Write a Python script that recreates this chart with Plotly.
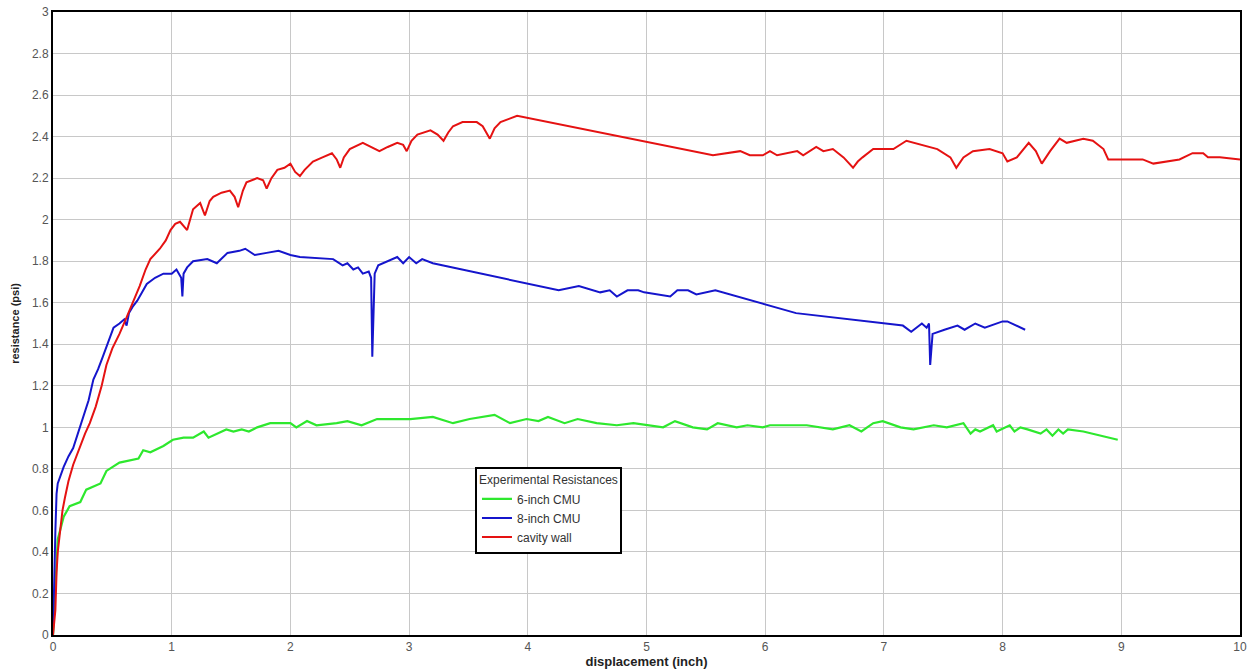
import plotly.graph_objects as go

# ---- data ----
red_x = [0, 0.01, 0.02, 0.03, 0.04, 0.06, 0.08, 0.1, 0.13, 0.17, 0.22, 0.27, 0.31, 0.36, 0.41, 0.45,
         0.5, 0.56, 0.62, 0.67, 0.73, 0.78, 0.82, 0.9, 0.95, 0.99, 1.03, 1.07, 1.1, 1.13, 1.18, 1.24,
         1.28, 1.32, 1.35, 1.42, 1.49, 1.53, 1.56, 1.6, 1.63, 1.72, 1.77, 1.8, 1.84, 1.89, 1.95, 2.0,
         2.04, 2.08, 2.12, 2.19, 2.27, 2.35, 2.39, 2.42, 2.45, 2.5, 2.61, 2.68, 2.75, 2.82, 2.9, 2.95,
         2.98, 3.02, 3.07, 3.18, 3.24, 3.29, 3.33, 3.37, 3.45, 3.57, 3.62, 3.68, 3.72, 3.77, 3.91,
         5.56, 5.79, 5.87, 5.98, 6.04, 6.1, 6.27, 6.32, 6.43, 6.49, 6.57, 6.66, 6.74, 6.78, 6.82, 6.91,
         7.08, 7.19, 7.45, 7.56, 7.61, 7.67, 7.75, 7.89, 8.0, 8.04, 8.12, 8.22, 8.28, 8.33, 8.4, 8.48,
         8.54, 8.68, 8.76, 8.85, 8.89, 9.18, 9.27, 9.49, 9.6, 9.69, 9.73, 9.83, 10.0]
red_y = [0, 0.05, 0.12, 0.3, 0.4, 0.5, 0.6, 0.66, 0.74, 0.82, 0.9, 0.97, 1.02, 1.1, 1.2, 1.3,
         1.38, 1.45, 1.53, 1.6, 1.68, 1.76, 1.81, 1.86, 1.9, 1.95, 1.98, 1.99, 1.97, 1.95, 2.05, 2.08,
         2.02, 2.09, 2.11, 2.13, 2.14, 2.11, 2.06, 2.14, 2.18, 2.2, 2.19, 2.15, 2.2, 2.24, 2.25, 2.27,
         2.23, 2.21, 2.24, 2.28, 2.3, 2.32, 2.29, 2.25, 2.3, 2.34, 2.37, 2.35, 2.33, 2.35, 2.37, 2.36,
         2.33, 2.38, 2.41, 2.43, 2.41, 2.38, 2.42, 2.45, 2.47, 2.47, 2.45, 2.39, 2.44, 2.47, 2.5,
         2.31, 2.33, 2.31, 2.31, 2.33, 2.31, 2.33, 2.31, 2.35, 2.33, 2.34, 2.3, 2.25, 2.28, 2.3, 2.34,
         2.34, 2.38, 2.34, 2.3, 2.25, 2.3, 2.33, 2.34, 2.32, 2.28, 2.3, 2.37, 2.33, 2.27, 2.33, 2.39,
         2.37, 2.39, 2.38, 2.34, 2.29, 2.29, 2.27, 2.29, 2.32, 2.32, 2.3, 2.3, 2.29]

blue_x = [0, 0.005, 0.01, 0.015, 0.02, 0.03, 0.04, 0.09, 0.13, 0.17, 0.21, 0.25, 0.3, 0.34, 0.38, 0.42,
          0.47, 0.51, 0.56, 0.6, 0.62, 0.64, 0.67, 0.71, 0.79, 0.86, 0.93, 1.0, 1.04, 1.08, 1.09, 1.1,
          1.13, 1.18, 1.3, 1.38, 1.47, 1.57, 1.62, 1.7, 1.8, 1.9, 2.0, 2.08, 2.36, 2.44, 2.48, 2.53,
          2.57, 2.61, 2.66, 2.68, 2.69, 2.7, 2.71, 2.74, 2.82, 2.9, 2.95, 3.0, 3.06, 3.11, 3.2, 3.77,
          4.26, 4.43, 4.61, 4.69, 4.75, 4.84, 4.93, 4.98, 5.2, 5.26, 5.35, 5.42, 5.58, 6.26, 7.16, 7.23,
          7.32, 7.36, 7.38, 7.39, 7.41, 7.51, 7.62, 7.68, 7.77, 7.85, 8.0, 8.04, 8.19]
blue_y = [0, 0.15, 0.3, 0.45, 0.5, 0.68, 0.73, 0.81, 0.86, 0.9, 0.97, 1.05, 1.13, 1.23, 1.28, 1.34,
          1.42, 1.48, 1.5, 1.52, 1.49, 1.55, 1.58, 1.61, 1.69, 1.72, 1.74, 1.74, 1.76, 1.72, 1.63, 1.74,
          1.77, 1.8, 1.81, 1.79, 1.84, 1.85, 1.86, 1.83, 1.84, 1.85, 1.83, 1.82, 1.81, 1.78, 1.79, 1.76,
          1.77, 1.74, 1.75, 1.72, 1.34, 1.5, 1.74, 1.78, 1.8, 1.82, 1.79, 1.82, 1.79, 1.81, 1.79, 1.72,
          1.66, 1.68, 1.65, 1.66, 1.63, 1.66, 1.66, 1.65, 1.63, 1.66, 1.66, 1.64, 1.66, 1.55, 1.49, 1.46,
          1.5, 1.48, 1.5, 1.3, 1.45, 1.47, 1.49, 1.47, 1.5, 1.48, 1.51, 1.51, 1.47]

green_x = [0, 0.02, 0.04, 0.09, 0.14, 0.23, 0.28, 0.4, 0.45, 0.56, 0.72, 0.76, 0.82, 0.93, 1.01, 1.1,
           1.18, 1.27, 1.31, 1.46, 1.52, 1.59, 1.65, 1.72, 1.83, 1.94, 2.0, 2.05, 2.14, 2.22, 2.39, 2.48,
           2.6, 2.73, 3.01, 3.2, 3.37, 3.51, 3.72, 3.85, 3.99, 4.09, 4.17, 4.31, 4.42, 4.58, 4.75, 4.89,
           5.03, 5.14, 5.24, 5.39, 5.51, 5.6, 5.76, 5.85, 5.98, 6.04, 6.15, 6.35, 6.57, 6.71, 6.81, 6.91,
           6.99, 7.14, 7.25, 7.42, 7.53, 7.67, 7.73, 7.77, 7.81, 7.85, 7.92, 7.95, 8.02, 8.06, 8.1, 8.15,
           8.21, 8.32, 8.37, 8.42, 8.47, 8.51, 8.55, 8.68, 8.97]
green_y = [0, 0.26, 0.46, 0.57, 0.62, 0.64, 0.7, 0.73, 0.79, 0.83, 0.85, 0.89, 0.88, 0.91, 0.94, 0.95,
           0.95, 0.98, 0.95, 0.99, 0.98, 0.99, 0.98, 1.0, 1.02, 1.02, 1.02, 1.0, 1.03, 1.01, 1.02, 1.03,
           1.01, 1.04, 1.04, 1.05, 1.02, 1.04, 1.06, 1.02, 1.04, 1.03, 1.05, 1.02, 1.04, 1.02, 1.01, 1.02,
           1.01, 1.0, 1.03, 1.0, 0.99, 1.02, 1.0, 1.01, 1.0, 1.01, 1.01, 1.01, 0.99, 1.01, 0.98, 1.02,
           1.03, 1.0, 0.99, 1.01, 1.0, 1.02, 0.97, 0.99, 0.98, 0.99, 1.01, 0.98, 1.0, 1.01, 0.98, 1.0,
           0.99, 0.97, 0.99, 0.96, 0.99, 0.97, 0.99, 0.98, 0.94]

series_names = ["6-inch CMU", "8-inch CMU", "cavity wall"]
legend_title = "Experimental Resistances"
x_title = "displacement (inch)"
y_title = "resistance (psi)"

FONT = "Liberation Sans, Arial, sans-serif"

fig = go.Figure()
fig.add_trace(go.Scatter(x=green_x, y=green_y, mode="lines", name=series_names[0],
                         line=dict(color="#2ee82e", width=2.2)))
fig.add_trace(go.Scatter(x=blue_x, y=blue_y, mode="lines", name=series_names[1],
                         line=dict(color="#1515cc", width=2)))
fig.add_trace(go.Scatter(x=red_x, y=red_y, mode="lines", name=series_names[2],
                         line=dict(color="#e51212", width=2)))

fig.update_layout(
    width=1248, height=672,
    margin=dict(l=53, r=8, t=12, b=37, autoexpand=False),
    paper_bgcolor="white", plot_bgcolor="white",
    font=dict(family=FONT, size=12, color="#444"),
    legend=dict(
        x=0.3555, y=0.27, xanchor="left", yanchor="top",
        bgcolor="white", bordercolor="black", borderwidth=2,
        font=dict(family=FONT, size=12, color="#333"),
        title=dict(text=legend_title, side="top center", font=dict(family=FONT, size=12, color="#333")),
        tracegroupgap=0,
    ),
    showlegend=True,
)
fig.update_xaxes(
    range=[0, 10], dtick=1, tick0=0, automargin=False,
    showgrid=True, gridcolor="#c8c8c8", gridwidth=1,
    showline=True, linecolor="black", linewidth=2, mirror=True,
    zeroline=False, ticks="", ticklen=0,
    tickfont=dict(family=FONT, size=12, color="#555"),
    title=dict(text="<b>" + x_title + "</b>", standoff=1,
               font=dict(family=FONT, size=13, color="#222")),
)
fig.update_yaxes(
    range=[0, 3], dtick=0.2, tick0=0, automargin=False,
    showgrid=True, gridcolor="#c8c8c8", gridwidth=1,
    showline=True, linecolor="black", linewidth=2, mirror=True,
    zeroline=False, ticks="",
    tickfont=dict(family=FONT, size=12, color="#555"),
    title=dict(text="<b>" + y_title + "</b>", standoff=10,
               font=dict(family=FONT, size=11, color="#222")),
)

# remove the browser's default 8px body margin so the figure fills the window exactly
fig.write_html("out.html", config={"displayModeBar": False},
               post_script="document.body.style.margin='0';")
